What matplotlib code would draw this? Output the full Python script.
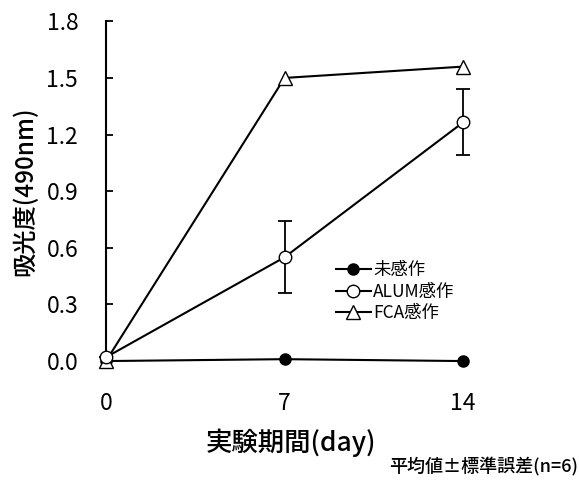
import matplotlib
matplotlib.use("Agg")
import matplotlib.pyplot as plt
from matplotlib.lines import Line2D

plt.rcParams['font.family'] = ['Noto Sans CJK JP', 'DejaVu Sans']

# データ
days = [0, 7, 14]
naive = [0.0, 0.01, 0.0]
alum = [0.02, 0.55, 1.265]
alum_err = [0.0, 0.19, 0.175]
fca = [0.0, 1.50, 1.56]

yticks = [0.0, 0.3, 0.6, 0.9, 1.2, 1.5, 1.8]
ytick_labels = ["0.0", "0.3", "0.6", "0.9", "1.2", "1.5", "1.8"]
xtick_labels = ["0", "7", "14"]
names = ["未感作", "ALUM感作", "FCA感作"]

fig = plt.figure(figsize=(5.79, 4.84), dpi=100)
ax = fig.add_axes([0.183, 0.254, 0.639, 0.702])

ax.plot(days, naive, "-o", color="black", mfc="black", ms=8, lw=1.5,
        clip_on=False, zorder=3)
ax.errorbar(days, alum, yerr=alum_err, fmt="-o", color="black", mfc="white",
            ms=9, lw=1.5, elinewidth=1.3, capsize=5, capthick=1.3,
            clip_on=False, zorder=3)
ax.plot(days, fca, "-^", color="black", mfc="white", ms=10, lw=1.5,
        clip_on=False, zorder=3)

ax.set_xlim(0, 14.5)
ax.set_ylim(0, 1.8)
ax.set_yticks(yticks)
ax.set_yticklabels(ytick_labels)
ax.set_xticks(days)
ax.set_xticklabels(xtick_labels)

for s in ["top", "right", "bottom"]:
    ax.spines[s].set_visible(False)
ax.spines["left"].set_linewidth(1.5)
ax.tick_params(axis="y", direction="in", length=5, width=1.3, labelsize=16.5, pad=20)
ax.tick_params(axis="x", length=0, labelsize=16.5, pad=22)

ax.set_ylabel("吸光度(490nm)", fontsize=17.5, fontweight="medium", labelpad=6)
ax.set_xlabel("実験期間(day)", fontsize=19, fontweight="medium", labelpad=10)

handles = [
    Line2D([], [], color="black", marker="o", mfc="black", ms=8, lw=1.5),
    Line2D([], [], color="black", marker="o", mfc="white", ms=9, lw=1.5),
    Line2D([], [], color="black", marker="^", mfc="white", ms=10, lw=1.5),
]
fig.legend(handles, names, loc="upper left", bbox_to_anchor=(0.565, 0.478),
           frameon=False, fontsize=12.5, handlelength=2.0, handletextpad=0.15,
           labelspacing=0.2, borderpad=0)

fig.text(0.998, 0.015, "平均値±標準誤差(n=6)", ha="right", va="bottom",
         fontsize=13, fontweight="medium")

plt.savefig("out.png", dpi=100)
